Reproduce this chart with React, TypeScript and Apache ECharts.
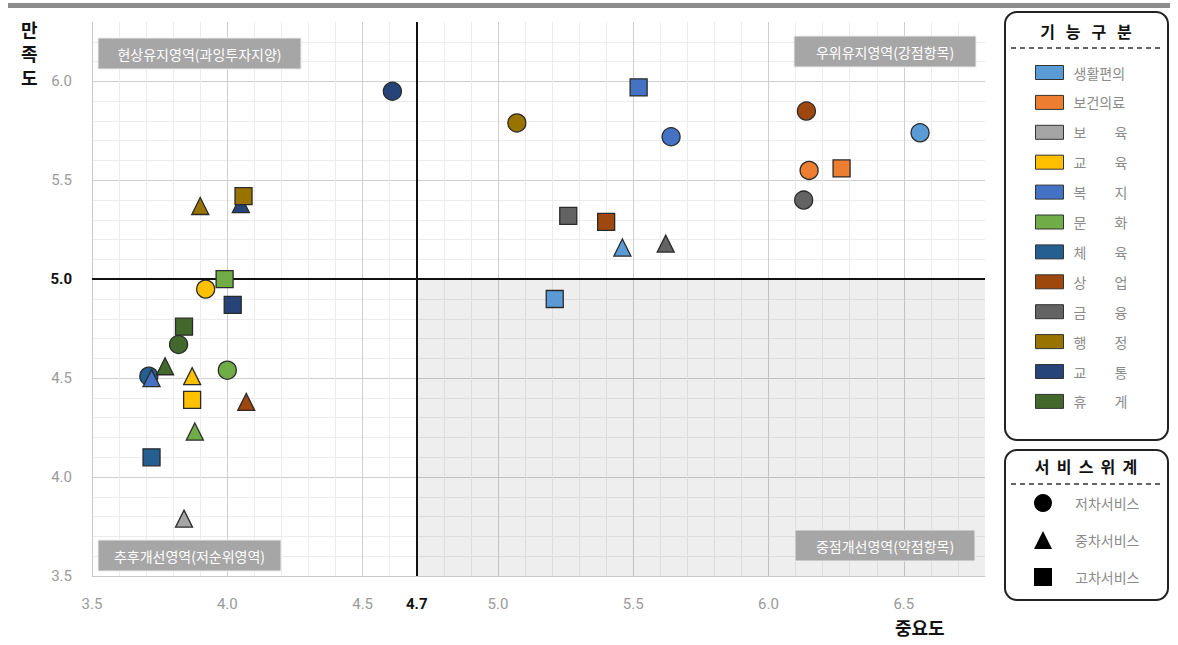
import React, { useEffect, useRef } from "react";
import * as echarts from "echarts";

// ---- data ----
const categories = ["생활편의", "보건의료", "보육", "교육", "복지", "문화", "체육", "상업", "금융", "행정", "교통", "휴게"];
const categoryColors = ["#5b9bd5", "#ed7d31", "#a5a5a5", "#ffc000", "#4472c4", "#70ad47", "#255e91", "#9e480e", "#636363", "#997300", "#264478", "#43682b"];
const tiers = ["저차서비스", "중차서비스", "고차서비스"];

// [category, importance (x), satisfaction (y)]
const lowTierPoints: [string, number, number][] = [
  ["생활편의", 6.56, 5.74],
  ["보건의료", 6.15, 5.55],
  ["교육", 3.92, 4.95],
  ["복지", 5.64, 5.72],
  ["문화", 4.0, 4.54],
  ["체육", 3.71, 4.51],
  ["상업", 6.14, 5.85],
  ["금융", 6.13, 5.4],
  ["행정", 5.07, 5.79],
  ["교통", 4.61, 5.95],
  ["휴게", 3.82, 4.67],
];
const midTierPoints: [string, number, number][] = [
  ["생활편의", 5.46, 5.16],
  ["보육", 3.84, 3.79],
  ["교육", 3.87, 4.51],
  ["복지", 3.72, 4.5],
  ["문화", 3.88, 4.23],
  ["상업", 4.07, 4.38],
  ["금융", 5.62, 5.18],
  ["행정", 3.9, 5.37],
  ["교통", 4.05, 5.38],
  ["휴게", 3.77, 4.56],
];
const highTierPoints: [string, number, number][] = [
  ["생활편의", 5.21, 4.9],
  ["보건의료", 6.27, 5.56],
  ["교육", 3.87, 4.39],
  ["복지", 5.52, 5.97],
  ["문화", 3.99, 5.0],
  ["체육", 3.72, 4.1],
  ["상업", 5.4, 5.29],
  ["금융", 5.26, 5.32],
  ["행정", 4.06, 5.42],
  ["교통", 4.02, 4.87],
  ["휴게", 3.84, 4.76],
];
const xRange = [3.5, 6.8];
const yRange = [3.5, 6.3];
const importanceCut = 4.7;
const satisfactionCut = 5.0;
const quadrantLabels = ["현상유지영역(과잉투자지양)", "우위유지영역(강점항목)", "추후개선영역(저순위영역)", "중점개선영역(약점항목)"];

const KR = "'Noto Sans CJK KR', 'Noto Sans', sans-serif";
const tierShapes = ["circle", "triangle", "rect"];
const tierSizes = [18, 17, 17];
const spaced: Record<string, string> = {};
categories.forEach((c) => {
  spaced[c] = c.length === 2 ? c[0] + "\u3000\u3000" + c[1] : c;
});

function quadLabel(text: string, x: number, y: number, w: number) {
  return {
    type: "group",
    x,
    y,
    z: 100,
    children: [
      { type: "rect", z: 100, shape: { x: 0, y: 0, width: w, height: 31 }, style: { fill: "#a6a6a6", stroke: "#ececec", lineWidth: 1 } },
      {
        type: "text",
        z: 101,
        x: w / 2,
        y: 16,
        style: { text, fill: "#ffffff", fontSize: 14, fontFamily: KR, align: "center", verticalAlign: "middle" },
      },
    ],
  };
}

export default function App() {
  const ref = useRef<HTMLDivElement>(null);
  useEffect(() => {
    document.body.style.margin = "0";
    const chart = echarts.init(ref.current!, null, { renderer: "svg" });
    const colorOf = (c: string) => categoryColors[categories.indexOf(c)];
    const tierData = [lowTierPoints, midTierPoints, highTierPoints];
    const fmt = (bold: number) => (v: number) => {
      const r = Math.round(v * 10);
      if (r === bold) return "{b|" + (r / 10).toFixed(1) + "}";
      if (r % 5 === 0) return (r / 10).toFixed(1);
      return "";
    };
    const splitColors = ["#cfcfcf", "#ececec", "#ececec", "#ececec", "#ececec"];
    const option: any = {
      animation: false,
      grid: { left: 92, top: 22, width: 893, height: 554, containLabel: false },
      xAxis: {
        type: "value",
        min: xRange[0],
        max: xRange[1],
        interval: 0.1,
        axisLine: { show: true, lineStyle: { color: "#c8c8c8" } },
        axisTick: { show: false },
        splitLine: { show: true, showMinLine: true, showMaxLine: false, lineStyle: { color: splitColors, width: 1 } },
        axisLabel: {
          formatter: fmt(47),
          color: "#9a9a9a",
          fontSize: 15,
          fontFamily: "Roboto, sans-serif",
          margin: 20,
          rich: { b: { color: "#111", fontWeight: "bold", fontSize: 15, fontFamily: "Roboto, sans-serif" } },
        },
      },
      yAxis: {
        type: "value",
        min: yRange[0],
        max: yRange[1],
        interval: 0.1,
        axisLine: { show: true, lineStyle: { color: "#c8c8c8" } },
        axisTick: { show: false },
        splitLine: { show: true, showMinLine: true, showMaxLine: false, lineStyle: { color: splitColors, width: 1 } },
        axisLabel: {
          formatter: fmt(50),
          color: "#9a9a9a",
          fontSize: 15,
          fontFamily: "Roboto, sans-serif",
          margin: 20,
          rich: { b: { color: "#111", fontWeight: "bold", fontSize: 15, fontFamily: "Roboto, sans-serif" } },
        },
      },
      legend: [
        {
          data: categories,
          orient: "vertical",
          left: 1035,
          top: 65,
          padding: 0,
          icon: "rect",
          itemWidth: 28,
          itemHeight: 14,
          itemGap: 14.9,
          selectedMode: false,
          itemStyle: { borderColor: "#333", borderWidth: 1, opacity: 1 },
          formatter: (n: string) => spaced[n] || n,
          textStyle: { color: "#8a8a8a", fontSize: 14, fontFamily: KR, lineHeight: 14, padding: [0, 0, 0, 5] },
        },
        {
          data: tiers.map((t, i) => ({ name: t, icon: tierShapes[i] })),
          orient: "vertical",
          left: 1034,
          top: 494,
          padding: 0,
          itemWidth: 18,
          itemHeight: 18,
          itemGap: 19,
          selectedMode: false,
          itemStyle: { borderWidth: 0, opacity: 1 },
          textStyle: { color: "#8a8a8a", fontSize: 14, fontFamily: KR, lineHeight: 18, padding: [0, 0, 0, 18] },
        },
      ],
      graphic: [
        { type: "rect", shape: { x: 8, y: 3, width: 1162, height: 5 }, style: { fill: "#8c8c8c" }, z: 10 },
        quadLabel(quadrantLabels[0], 98, 38, 203),
        quadLabel(quadrantLabels[1], 794, 36, 182),
        quadLabel(quadrantLabels[2], 98, 540, 183),
        quadLabel(quadrantLabels[3], 795, 530, 180),
        {
          type: "text",
          x: 21,
          y: 17,
          style: { text: "만\n족\n도", fill: "#111", fontSize: 18, fontWeight: "bold", fontFamily: KR, lineHeight: 24 },
        },
        {
          type: "text",
          x: 895,
          y: 618,
          style: { text: "중요도", fill: "#111", fontSize: 18, fontWeight: "bold", fontFamily: KR },
        },
        {
          type: "rect",
          z: -1,
          shape: { x: 1005, y: 12, width: 163, height: 428, r: 12 },
          style: { fill: "#fff", stroke: "#222", lineWidth: 2 },
        },
        {
          type: "text",
          x: 1086,
          y: 31,
          style: { text: "기   능   구   분", fill: "#111", fontSize: 16, fontWeight: "bold", fontFamily: KR, align: "center", verticalAlign: "middle" },
        },
        { type: "line", shape: { x1: 1011, y1: 48, x2: 1163, y2: 48 }, style: { stroke: "#333", lineWidth: 1.5, lineDash: [5, 4] } },
        {
          type: "rect",
          z: -1,
          shape: { x: 1005, y: 450, width: 163, height: 150, r: 12 },
          style: { fill: "#fff", stroke: "#222", lineWidth: 2 },
        },
        {
          type: "text",
          x: 1086,
          y: 466,
          style: { text: "서  비  스  위  계", fill: "#111", fontSize: 16, fontWeight: "bold", fontFamily: KR, align: "center", verticalAlign: "middle" },
        },
        { type: "line", shape: { x1: 1011, y1: 484, x2: 1163, y2: 484 }, style: { stroke: "#333", lineWidth: 1.5, lineDash: [5, 4] } },
      ],
      series: [
        {
          type: "scatter",
          name: "_ref",
          data: [],
          z: 1,
          silent: true,
          markArea: {
            silent: true,
            itemStyle: { color: "rgba(0,0,0,0.065)" },
            data: [[{ xAxis: importanceCut, yAxis: yRange[0] }, { xAxis: xRange[1], yAxis: satisfactionCut }]],
          },
          markLine: {
            silent: true,
            symbol: "none",
            label: { show: false },
            lineStyle: { color: "#111", width: 2, type: "solid" },
            data: [{ xAxis: importanceCut }, { yAxis: satisfactionCut }],
          },
        },
        ...categories.map((c, i) => ({
          type: "scatter",
          name: c,
          data: [],
          itemStyle: { color: categoryColors[i], opacity: 1 },
        })),
        ...tiers.map((t, i) => ({
          type: "scatter",
          name: t,
          symbol: tierShapes[i],
          symbolSize: tierSizes[i],
          z: 3 + i,
          itemStyle: { color: "#000", opacity: 1 },
          data: tierData[i].map(([c, x, y]) => ({
            name: c,
            value: [x, y],
            itemStyle: { color: colorOf(c), borderColor: "#2a2a2a", borderWidth: 1.3, opacity: 1 },
          })),
        })),
      ],
    };
    chart.setOption(option);
    return () => chart.dispose();
  }, []);
  return <div ref={ref} style={{ width: 1178, height: 645 }} />;
}
